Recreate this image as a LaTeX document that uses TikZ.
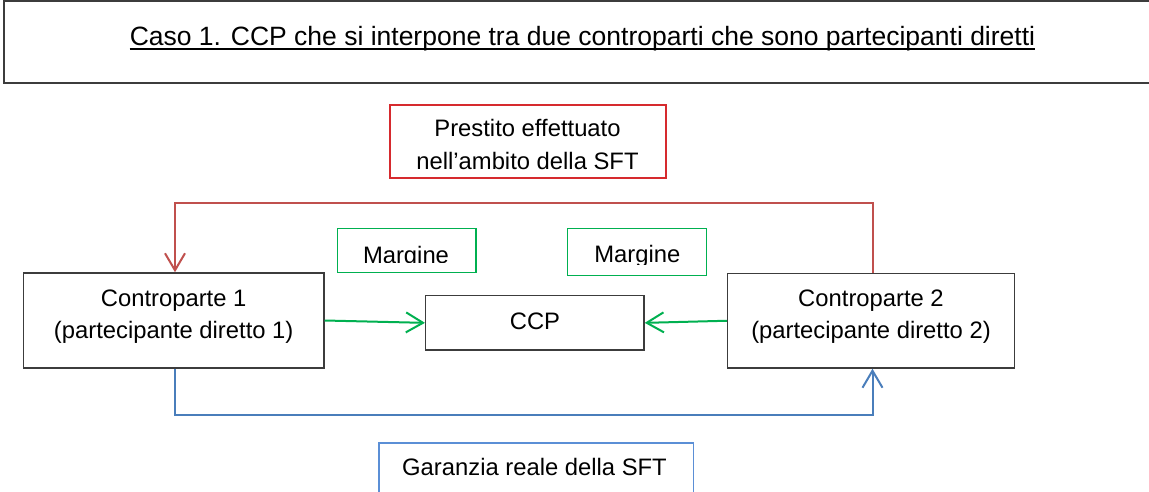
\documentclass[tikz,border=0pt]{standalone}
\usepackage{fontspec}
\setmainfont{Liberation Sans}
\usetikzlibrary{arrows.meta}
\definecolor{boxgray}{RGB}{60,60,60}
\definecolor{redline}{RGB}{192,80,77}
\definecolor{redbox}{RGB}{214,42,46}
\definecolor{grn}{RGB}{0,176,80}
\definecolor{blueline}{RGB}{74,126,187}
\definecolor{bluebox}{RGB}{91,143,214}
\begin{document}
\begin{tikzpicture}[x=1pt,y=-1pt,
  box/.style={draw=boxgray, line width=1.5pt, inner sep=0pt},
  gbox/.style={draw=grn, line width=1.5pt, inner sep=0pt},
  txt/.style={font=\fontsize{23.8}{31.3}\selectfont, align=center, inner sep=0pt},
  txtb/.style={font=\fontsize{23.8}{32.3}\selectfont, align=center, inner sep=0pt},
  conn/.style={line width=2pt, -{Straight Barb[length=17pt,width=20pt]}},
]
\useasboundingbox (0,0) rectangle (1149,491);
\clip (0,0) rectangle (1149,491);
\fill[white] (0,0) rectangle (1149,491);

% title frame (its right side lies outside the picture)
\draw[draw=boxgray, line width=2pt] (1200,1) -- (4,1) -- (4,83) -- (1200,83);
\node[font=\fontsize{26.5}{32}\selectfont, inner sep=0pt, anchor=base] (title) at (582.5,45) {Caso 1. CCP che si interpone tra due controparti che sono partecipanti diretti};
\draw[line width=2pt] ([yshift=-4pt]title.base west) -- ([yshift=-4pt]title.base east);

% loan box
\node[draw=redbox, line width=1.5pt, inner sep=0pt, minimum width=276pt, minimum height=73pt] (loan) at (528,141.5) {};
\node[txtb, anchor=base] (loant) at (527.5,169) {Prestito effettuato\\nell’ambito della SFT};

% margin boxes
\node[gbox, minimum width=138.3pt, minimum height=44pt] (m1) at (406.85,250.3) {};
\begin{scope}
\clip (337,228) rectangle (477,262.5);
\node[txt, anchor=base] (m1t) at (406,263.5) {Margine};
\end{scope}
\node[gbox, minimum width=138.8pt, minimum height=47pt] (m2) at (637.1,251.8) {};
\begin{scope}
\clip (567,228) rectangle (707,264.5);
\node[txt, anchor=base] (m2t) at (637.3,262.5) {Margine};
\end{scope}

% counterparties and CCP
\node[box, minimum width=300.5pt, minimum height=95pt] (c1) at (173.7,320.5) {};
\node[txt, anchor=base] (c1t) at (173.7,338) {Controparte 1\\(partecipante diretto 1)};
\node[box, minimum width=286.6pt, minimum height=94.5pt] (c2) at (871,320.75) {};
\node[txt, anchor=base] (c2t) at (871,338) {Controparte 2\\(partecipante diretto 2)};
\node[box, minimum width=218.3pt, minimum height=54.3pt] (ccp) at (534.85,322.85) {};
\node[txt, anchor=base] (ccpt) at (535,329.3) {CCP};

% collateral box (its bottom lies outside the picture)
\node[draw=bluebox, line width=1.5pt, inner sep=0pt, minimum width=314.7pt, minimum height=80pt, anchor=north west] (gar) at (378,442.3) {};
\node[txt, anchor=base] (gart) at (534.5,475) {Garanzia reale della SFT};

% connectors
\coordinate (rtop) at (0,203.3);
\coordinate (bbot) at (0,415);
\coordinate (r1) at ([xshift=1.5pt]c2.north);
\coordinate (r2) at ([xshift=1.3pt]c1.north);
\coordinate (b1) at ([xshift=1.3pt]c1.south);
\coordinate (b2) at ([xshift=1.5pt]c2.south);
\draw[conn, draw=redline] (r1) -- (r1 |- rtop) -| (r2);
\draw[conn, draw=blueline] (b1) -- (b1 |- bbot) -| (b2);
\draw[conn, draw=grn] (c1.east) -- (ccp.west);
\draw[conn, draw=grn] (c2.west) -- (ccp.east);
\end{tikzpicture}
\end{document}
